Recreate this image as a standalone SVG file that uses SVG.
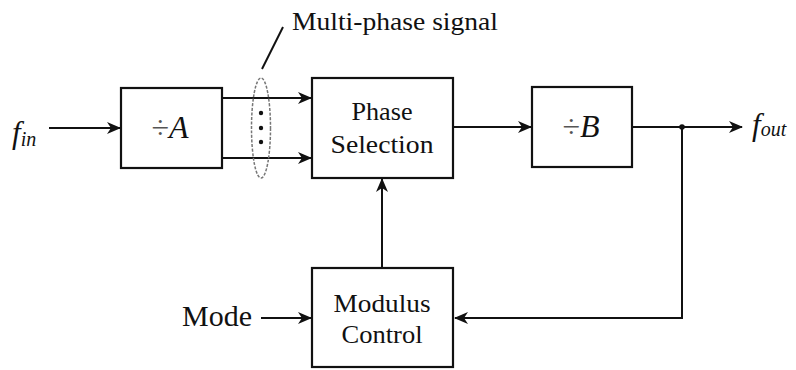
<svg xmlns="http://www.w3.org/2000/svg" width="796" height="370" viewBox="0 0 796 370">
<style>
.box{fill:#fff;stroke:#111;stroke-width:2.2}
.ln{fill:none;stroke:#111;stroke-width:2}
.t{font-family:'Liberation Serif','Times New Roman',serif;fill:#111;text-anchor:middle}
.i{font-style:italic}
</style>
<defs>
<marker id="ah" markerUnits="userSpaceOnUse" markerWidth="14" markerHeight="12" refX="13" refY="6" orient="auto">
<path d="M0,0 L14,6 L0,12 L4,6 z" fill="#111"/>
</marker>
</defs>
<g id="connectors">
<line class="ln" x1="49" y1="128" x2="120" y2="128" marker-end="url(#ah)"/>
<line class="ln" x1="222" y1="98" x2="311" y2="98" marker-end="url(#ah)"/>
<line class="ln" x1="222" y1="158" x2="311" y2="158" marker-end="url(#ah)"/>
<line class="ln" x1="453" y1="127" x2="531" y2="127" marker-end="url(#ah)"/>
<line class="ln" x1="632" y1="127" x2="742" y2="127" marker-end="url(#ah)"/>
<circle cx="682" cy="127" r="2.8" fill="#111"/>
<polyline class="ln" points="682,127 682,318 455,318" marker-end="url(#ah)"/>
<line class="ln" x1="261" y1="318" x2="311" y2="318" marker-end="url(#ah)"/>
<line class="ln" x1="382" y1="268" x2="382" y2="179" marker-end="url(#ah)"/>
</g>
<g id="fin"><text class="t i" style="text-anchor:start"><tspan x="12" y="143" font-size="31">f</tspan><tspan y="146" font-size="20">in</tspan></text></g>
<g id="divA">
<rect class="box" x="121" y="88" width="101" height="80"/>
<text class="t" x="170" y="138" font-size="32"><tspan fill="#555">÷</tspan><tspan class="i">A</tspan></text>
</g>
<g id="multiphase">
<ellipse cx="261" cy="128" rx="9.5" ry="50" fill="none" stroke="#777" stroke-width="1.5" stroke-dasharray="3,1.5"/>
<circle cx="261" cy="113" r="2.2" fill="#111"/>
<circle cx="261" cy="128" r="2.2" fill="#111"/>
<circle cx="261" cy="142" r="2.2" fill="#111"/>
<line class="ln" x1="262" y1="69" x2="283" y2="27"/>
<text class="t" x="395" y="30" font-size="26" textLength="206" lengthAdjust="spacingAndGlyphs">Multi-phase signal</text>
</g>
<g id="phasesel">
<rect class="box" x="312" y="78" width="141" height="100"/>
<text class="t" x="382" y="120" font-size="26" textLength="61" lengthAdjust="spacingAndGlyphs">Phase</text>
<text class="t" x="382" y="153" font-size="26" textLength="103" lengthAdjust="spacingAndGlyphs">Selection</text>
</g>
<g id="divB">
<rect class="box" x="532" y="87" width="100" height="80"/>
<text class="t" x="581" y="137" font-size="32"><tspan fill="#555">÷</tspan><tspan class="i">B</tspan></text>
</g>
<g id="fout"><text class="t i" style="text-anchor:start"><tspan x="752" y="135" font-size="31">f</tspan><tspan y="136" font-size="20">out</tspan></text></g>
<g id="modctrl">
<rect class="box" x="312" y="268" width="141" height="99"/>
<text class="t" x="382" y="312" font-size="26" textLength="97" lengthAdjust="spacingAndGlyphs">Modulus</text>
<text class="t" x="382" y="343" font-size="26" textLength="81" lengthAdjust="spacingAndGlyphs">Control</text>
</g>
<g id="mode"><text class="t" x="217" y="326" font-size="29" textLength="70" lengthAdjust="spacingAndGlyphs">Mode</text></g>
</svg>
